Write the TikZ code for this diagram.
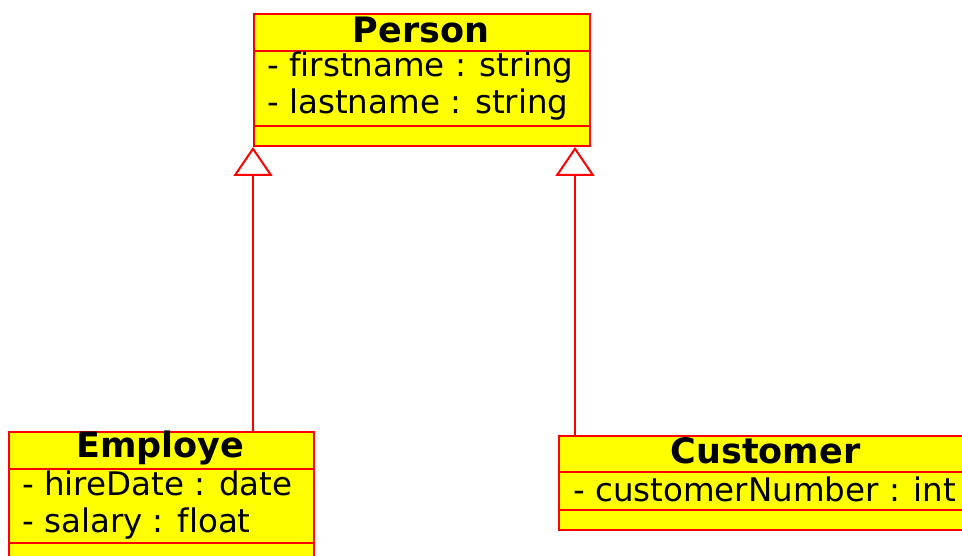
\documentclass[tikz,border=0pt]{standalone}
\usepackage{fontspec}
\setmainfont[Ligatures=NoCommon]{DejaVu Sans}
\usetikzlibrary{arrows.meta}

\definecolor{umlfill}{RGB}{255,255,0}
\definecolor{umlline}{RGB}{255,0,0}

\tikzset{
  classbox/.style={draw=umlline, fill=umlfill, line width=2pt,
    anchor=north west, inner sep=0pt},
  divider/.style={draw=umlline, line width=2pt},
  classname/.style={anchor=base, inner sep=0pt,
    font=\fontsize{35}{40}\selectfont\bfseries},
  attr/.style={anchor=base west, inner sep=0pt,
    font=\fontsize{32.5}{37}\selectfont},
  generalization/.style={draw=umlline, line width=2pt,
    -{Triangle[fill=white, length=29pt, width=39pt, line width=2pt]}},
}

\begin{document}
\begin{tikzpicture}[x=1pt, y=-1pt]
  \useasboundingbox (0,0) rectangle (962,556);
  \clip (0,0) rectangle (962,556);

  % Person class
  \node[classbox, minimum width=336pt, minimum height=132pt] (person) at (253,13) {};
  \draw[divider] (253,51) -- (589,51);
  \draw[divider] (253,126) -- (589,126);
  \node[classname] (personName) at (421,43) {Person};
  \node[attr] (personA1) at (267,77) {- firstname : string};
  \node[attr] (personA2) at (267,114) {- lastname : string};

  % Employe class
  \node[classbox, minimum width=305pt, minimum height=140pt] (employe) at (8,431) {};
  \draw[divider] (8,469) -- (313,469);
  \draw[divider] (8,543) -- (313,543);
  \node[classname] (employeName) at (160.5,457) {Employe};
  \node[attr] (employeA1) at (22,495) {- hireDate : date};
  \node[attr] (employeA2) at (22,532) {- salary : float};

  % Customer class
  \node[classbox, minimum width=415pt, minimum height=94pt] (customer) at (558,435) {};
  \draw[divider] (558,472) -- (973,472);
  \draw[divider] (558,510) -- (973,510);
  \node[classname] (customerName) at (765.5,463) {Customer};
  \node[attr] (customerA1) at (573,501) {- customerNumber : int};

  % Generalization connectors
  \coordinate (employeTop) at (253,431);
  \coordinate (customerTop) at (575,435);
  \draw[generalization] (employeTop) -- (employeTop |- person.south);
  \draw[generalization] (customerTop) -- (customerTop |- person.south);
\end{tikzpicture}
\end{document}
